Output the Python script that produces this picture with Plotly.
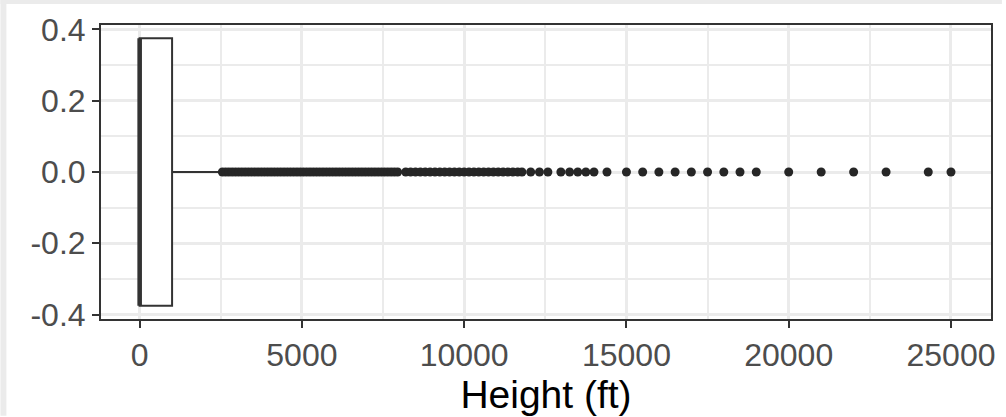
import plotly.graph_objects as go

# ---- data ----
box_q1 = [0]
box_median = [0]
box_q3 = [1000]
box_lowerfence = [0]
box_upperfence = [2450]
box_position = [0]
box_width = 0.75

outliers_ft = [
    2550, 2650, 2750, 2850, 2950, 3050, 3150, 3250, 3350, 3450, 3550, 3650,
    3750, 3850, 3950, 4050, 4150, 4250, 4350, 4450, 4550, 4650, 4750, 4850,
    4950, 5050, 5150, 5250, 5350, 5450, 5550, 5650, 5750, 5850, 5950, 6050,
    6150, 6250, 6350, 6450, 6550, 6650, 6750, 6850, 6950, 7050, 7150, 7250,
    7350, 7450, 7550, 7650, 7750, 7850, 7950,
    8200, 8350, 8500, 8650, 8800, 8950, 9100, 9250, 9400, 9550, 9700, 9850,
    10000, 10150, 10300, 10450, 10600, 10750, 10900, 11050, 11200, 11350,
    11500, 11650, 11780,
    12050, 12320, 12580, 12980, 13250, 13500, 13750, 14000, 14400,
    15000, 15500, 16000, 16500, 17000, 17500, 18000, 18500, 19000,
    20000, 21000, 22000, 23000, 24300, 25000,
]

x_ticks = [0, 5000, 10000, 15000, 20000, 25000]
x_ticklabels = ["0", "5000", "10000", "15000", "20000", "25000"]
y_ticks = [0.4, 0.2, 0.0, -0.2, -0.4]
y_ticklabels = ["0.4", "0.2", "0.0", "-0.2", "-0.4"]
x_title = "Height (ft)"

# ---- figure ----
FONT = "Liberation Sans, Arial, Helvetica, sans-serif"
GRID = "#EBEBEB"
DARK = "#333333"

fig = go.Figure()

fig.add_trace(go.Box(
    y=box_position, q1=box_q1, median=box_median, q3=box_q3,
    lowerfence=box_lowerfence, upperfence=box_upperfence,
    orientation="h", width=box_width, whiskerwidth=0,
    boxpoints=False, fillcolor="white",
    line=dict(color=DARK, width=2), showlegend=False, hoverinfo="skip",
))

# thick median line (ggplot fattens the median)
fig.add_trace(go.Scatter(
    x=[box_median[0], box_median[0]],
    y=[box_position[0] - box_width / 2, box_position[0] + box_width / 2],
    mode="lines", line=dict(color=DARK, width=4.5),
    showlegend=False, hoverinfo="skip",
))

fig.add_trace(go.Scatter(
    x=outliers_ft, y=[box_position[0]] * len(outliers_ft),
    mode="markers", marker=dict(color="#262626", size=9, line=dict(width=0)),
    showlegend=False, hoverinfo="skip",
))

# light-grey frame strips on left and top (outer background)
W, H = 1006, 417
ML, MR, MT, MB = 101, 11, 25, 97
pw, ph = W - ML - MR, H - MT - MB
def px_x(p):
    return (p - ML) / pw
def px_y(p):
    return 1 + (MT - p) / ph

fig.add_shape(type="rect", xref="paper", yref="paper",
              x0=px_x(0), x1=px_x(6), y0=px_y(H), y1=px_y(0),
              fillcolor="#EBEBEB", line=dict(width=0), layer="below")
fig.add_shape(type="rect", xref="paper", yref="paper",
              x0=px_x(0), x1=px_x(W), y0=px_y(4), y1=px_y(0),
              fillcolor="#EBEBEB", line=dict(width=0), layer="below")

fig.update_layout(
    width=W, height=H,
    margin=dict(l=ML, r=MR, t=MT, b=MB, pad=0),
    paper_bgcolor="white", plot_bgcolor="white",
    font=dict(family=FONT, size=32, color="#4D4D4D"),
    showlegend=False,
)

fig.update_xaxes(
    range=[-1190, 26233], tickmode="array", tickvals=x_ticks, ticktext=x_ticklabels,
    showgrid=True, gridcolor=GRID, gridwidth=3,
    minor=dict(dtick=2500, tick0=0, showgrid=True, gridcolor=GRID, gridwidth=1.5, ticks=""),
    zeroline=False, showline=True, mirror=True, linecolor=DARK, linewidth=2,
    ticks="outside", ticklen=7, tickwidth=2, tickcolor=DARK,
    tickfont=dict(family=FONT, size=32, color="#4D4D4D"),
    title=dict(text=x_title, font=dict(family=FONT, size=39, color="black"), standoff=5),
)
fig.update_yaxes(
    range=[-0.4125, 0.4125], tickmode="array", tickvals=y_ticks, ticktext=y_ticklabels,
    showgrid=True, gridcolor=GRID, gridwidth=3,
    minor=dict(dtick=0.1, tick0=0, showgrid=True, gridcolor=GRID, gridwidth=1.5, ticks=""),
    zeroline=False, showline=True, mirror=True, linecolor=DARK, linewidth=2,
    ticks="outside", ticklen=7, tickwidth=2, tickcolor=DARK,
    tickfont=dict(family=FONT, size=32, color="#4D4D4D"),
)

fig.write_html("out.html",
               config={"displayModeBar": False},
               post_script="document.body.style.margin='0';document.body.style.padding='0';")
